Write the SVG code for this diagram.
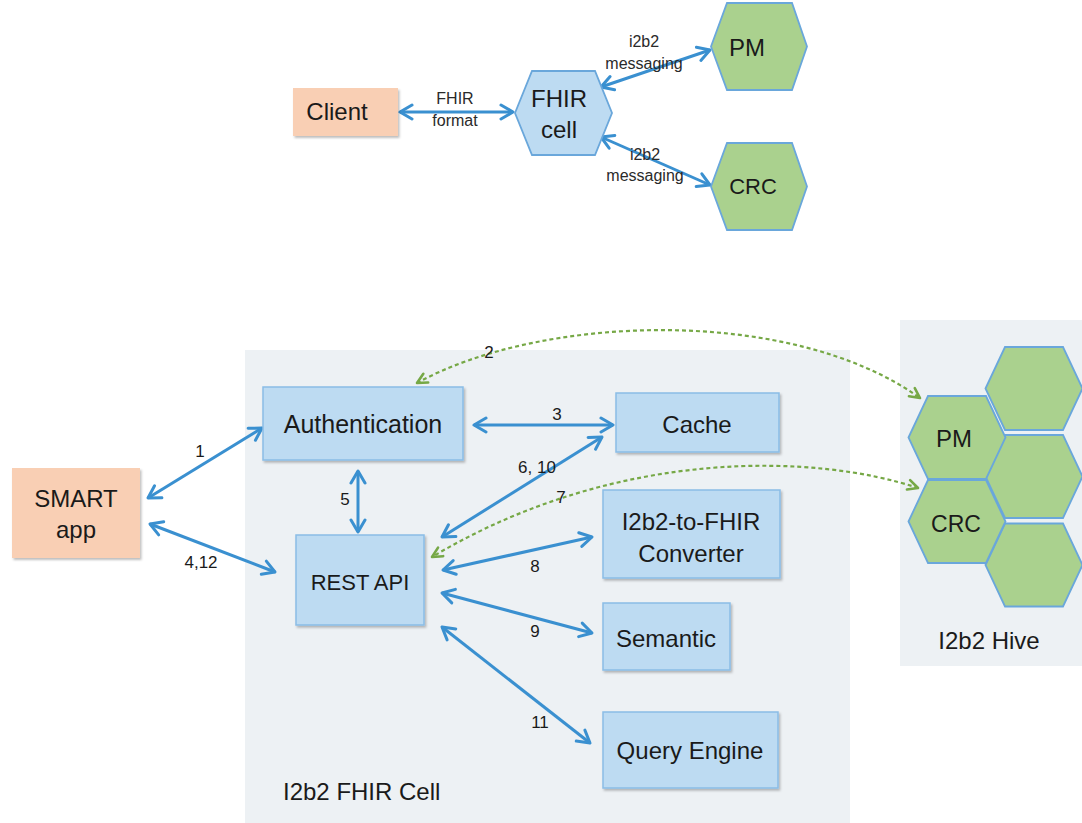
<svg xmlns="http://www.w3.org/2000/svg" width="1082" height="823" viewBox="0 0 1082 823">
<defs>
<filter id="sh" x="-10%" y="-10%" width="130%" height="130%"><feDropShadow dx="1.5" dy="2" stdDeviation="1.2" flood-color="#000" flood-opacity="0.25"/></filter>
<marker id="ab" markerUnits="userSpaceOnUse" viewBox="0 0 16 18" refX="14" refY="9" markerWidth="16" markerHeight="18" orient="auto-start-reverse"><path d="M2,2 L14,9 L2,16" fill="none" stroke="#3a90d0" stroke-width="3" stroke-linecap="round" stroke-linejoin="round"/></marker>
<marker id="ag" markerUnits="userSpaceOnUse" viewBox="0 0 14 14" refX="12" refY="7" markerWidth="14" markerHeight="14" orient="auto-start-reverse"><path d="M2,2 L12,7 L2,12" fill="none" stroke="#76a846" stroke-width="2.6" stroke-linecap="round" stroke-linejoin="round"/></marker>
</defs>
<style>
text{font-family:"Liberation Sans",Arial,sans-serif;fill:#1a1a1a}
.box{fill:#bddbf2;stroke:#8abde6;stroke-width:1.5;filter:url(#sh)}
.org{fill:#f9cfb4;filter:url(#sh)}
.hexb{fill:#bddbf2;stroke:#6aa7db;stroke-width:1.8}
.hexg{fill:#aad18e;stroke:#6aa7db;stroke-width:1.8}
.panel{fill:#edf1f4}
.bl{fill:none;stroke:#3a90d0;stroke-width:3;marker-start:url(#ab);marker-end:url(#ab)}
.gr{fill:none;stroke:#76a846;stroke-width:2.2;stroke-dasharray:4 3;marker-start:url(#ag);marker-end:url(#ag)}
.t24{font-size:24px;text-anchor:middle}
.lab{font-size:16px;text-anchor:middle;fill:#2a2a2a}
.num{font-size:17px;text-anchor:middle}
</style>
<rect width="1082" height="823" fill="#ffffff"/>
<rect class="panel" x="245" y="350" width="605" height="473"/>
<rect class="panel" x="900" y="320" width="182" height="346"/>
<text x="283" y="800" style="font-size:24px">I2b2 FHIR Cell</text>
<text x="989" y="649" class="t24">I2b2 Hive</text>

<g id="connectors">
<path class="bl" d="M400,112 L513,112"/>
<path class="bl" d="M601,87 L710,50"/>
<path class="bl" d="M601,137 L710,185"/>
<path class="bl" d="M148,498 L262,428"/>
<path class="bl" d="M150,524 L275,572"/>
<path class="bl" d="M474,425 L613,425"/>
<path class="bl" d="M358,471 L358,532"/>
<path class="bl" d="M602,437 L442,537"/>
<path class="bl" d="M443,570 L592,537"/>
<path class="bl" d="M442,593 L592,633"/>
<path class="bl" d="M442,627 L590,743"/>
<path class="gr" d="M417,383 C540,315 790,305 920,398"/>
<path class="gr" d="M918,488 C820,455 620,445 432,557"/>
<text class="lab" x="455" y="104">FHIR</text>
<text class="lab" x="455" y="126">format</text>
<text class="lab" x="644" y="47">i2b2</text>
<text class="lab" x="644" y="69">messaging</text>
<text class="lab" x="645" y="160">i2b2</text>
<text class="lab" x="645" y="181">messaging</text>
<text class="num" x="200" y="457">1</text>
<text class="num" x="489" y="358">2</text>
<text class="num" x="557" y="420">3</text>
<text class="num" x="201" y="568">4,12</text>
<text class="num" x="345" y="505">5</text>
<text class="num" x="537" y="473">6, 10</text>
<text class="num" x="561" y="503">7</text>
<text class="num" x="535" y="572">8</text>
<text class="num" x="535" y="637">9</text>
<text class="num" x="540" y="728">11</text>
</g>

<g id="client"><rect class="org" x="293" y="88" width="105" height="48"/><text class="t24" x="337" y="120">Client</text></g>
<g id="fhircell"><polygon class="hexb" points="515,113 532,71 595,71 612,113 595,155 532,155"/><text class="t24" x="559" y="107">FHIR</text><text class="t24" x="559" y="138">cell</text></g>
<g id="pm-top"><polygon class="hexg" points="711,46.5 727,3 792,3 807,46.5 792,90 727,90"/><text class="t24" x="747" y="56">PM</text></g>
<g id="crc-top"><polygon class="hexg" points="711,186.5 727,143 792,143 807,186.5 792,230 727,230"/><text class="t24" x="753" y="194" style="font-size:22px">CRC</text></g>

<g id="smart"><rect class="org" x="12" y="468" width="128" height="90"/><text class="t24" x="76" y="507">SMART</text><text class="t24" x="76" y="538">app</text></g>
<g id="auth"><rect class="box" x="263" y="387" width="200" height="73"/><text class="t24" x="363" y="433" style="font-size:25px">Authentication</text></g>
<g id="cache"><rect class="box" x="616" y="393" width="163" height="59"/><text class="t24" x="697" y="433">Cache</text></g>
<g id="rest"><rect class="box" x="296" y="535" width="128" height="90"/><text class="t24" x="360" y="590" style="font-size:22px">REST API</text></g>
<g id="converter"><rect class="box" x="603" y="490" width="177" height="88"/><text class="t24" x="691" y="530">I2b2-to-FHIR</text><text class="t24" x="691" y="562">Converter</text></g>
<g id="semantic"><rect class="box" x="603" y="603" width="127" height="67"/><text class="t24" x="666" y="647">Semantic</text></g>
<g id="query"><rect class="box" x="603" y="712" width="175" height="76"/><text class="t24" x="690" y="759">Query Engine</text></g>

<g id="hive">
<polygon class="hexg" points="985.5,388.5 1005,347 1063,347 1082.5,388.5 1063,430 1005,430"/>
<polygon class="hexg" points="985.5,476.5 1005,435 1063,435 1082.5,476.5 1063,518 1005,518"/>
<polygon class="hexg" points="985.5,565 1005,523.5 1063,523.5 1082.5,565 1063,606.5 1005,606.5"/>
<g id="pm-hive"><polygon class="hexg" points="908.5,437.5 928,396 986,396 1005.5,437.5 986,479 928,479"/><text class="t24" x="954" y="447">PM</text></g>
<g id="crc-hive"><polygon class="hexg" points="908.5,521.5 928,480 986,480 1005.5,521.5 986,563 928,563"/><text class="t24" x="956" y="532" style="font-size:23px">CRC</text></g>
</g>
</svg>
